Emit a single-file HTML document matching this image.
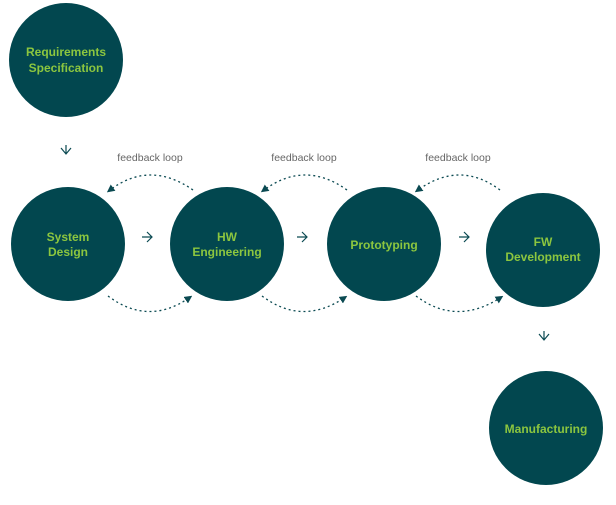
<!DOCTYPE html>
<html><head><style>
body{margin:0;background:#fff;width:616px;height:500px;overflow:hidden;font-family:"Liberation Sans",sans-serif}
</style></head><body>
<svg width="616" height="500" xmlns="http://www.w3.org/2000/svg">
<defs><marker id="ah" markerWidth="6" markerHeight="6" refX="3" refY="3" orient="auto"><path d="M0,0 L6,3 L0,6 z" fill="#0b4a52"/></marker></defs>
<g fill="#02474f">
<circle cx="66" cy="60" r="57"/>
<circle cx="68" cy="244" r="57"/>
<circle cx="227" cy="244" r="57"/>
<circle cx="384" cy="244" r="57"/>
<circle cx="543" cy="250" r="57"/>
<circle cx="546" cy="428" r="57"/>
</g>
<g fill="#8cc63f" font-size="12" font-weight="bold" text-anchor="middle">
<text x="66" y="56">Requirements</text><text x="66" y="72">Specification</text>
<text x="68" y="241">System</text><text x="68" y="256">Design</text>
<text x="227" y="241">HW</text><text x="227" y="256">Engineering</text>
<text x="384" y="249">Prototyping</text>
<text x="543" y="246">FW</text><text x="543" y="261">Development</text>
<text x="546" y="433">Manufacturing</text>
</g>
<g fill="#666" font-size="10.5" text-anchor="middle">
<text x="150" y="161">feedback loop</text>
<text x="304" y="161">feedback loop</text>
<text x="458" y="161">feedback loop</text>
</g>
<g stroke="#0b4a52" stroke-width="1.2" fill="none">
<path d="M61,148 L66,154 L71,148 M66,145 V154"/>
<path d="M142,237 H152 M147,232 L152,237 L147,242"/>
<path d="M297,237 H307 M302,232 L307,237 L302,242"/>
<path d="M459,237 H469 M464,232 L469,237 L464,242"/>
<path d="M539,334 L544,340 L549,334 M544,331 V340"/>
</g>
<g stroke="#0b4a52" stroke-width="1.3" fill="none" stroke-dasharray="2,3">
<path d="M193,190 Q150,160 110,190" marker-end="url(#ah)"/>
<path d="M347,190 Q305,160 264,190" marker-end="url(#ah)"/>
<path d="M500,190 Q460,160 418,190" marker-end="url(#ah)"/>
<path d="M108,296 Q148,326 189,298" marker-end="url(#ah)"/>
<path d="M262,296 Q302,326 344,298" marker-end="url(#ah)"/>
<path d="M416,296 Q456,326 500,298" marker-end="url(#ah)"/>
</g>
</svg>
</body></html>
